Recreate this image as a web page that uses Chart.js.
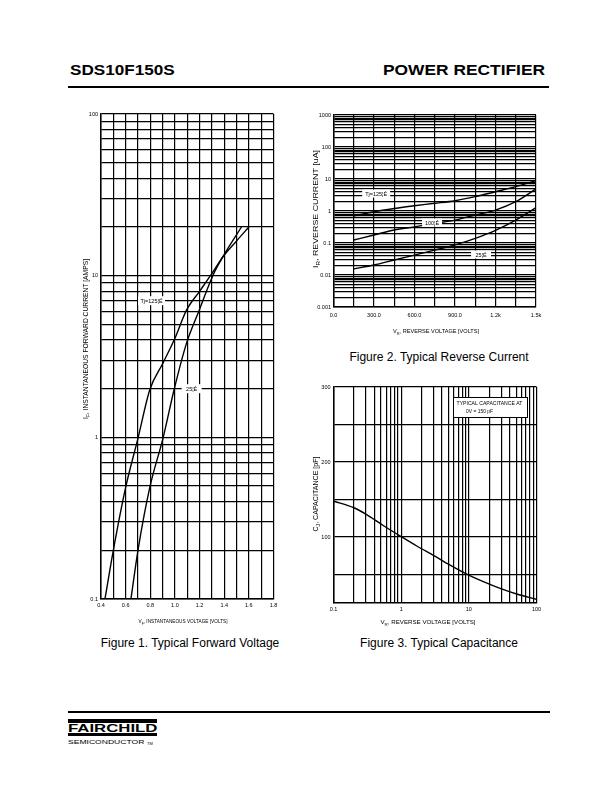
<!DOCTYPE html>
<html><head><meta charset="utf-8">
<script src="https://cdn.jsdelivr.net/npm/chart.js@4.4.0/dist/chart.umd.min.js"></script>
<style>
html,body{margin:0;padding:0;background:#fff;}
body{width:612px;height:792px;position:relative;overflow:hidden;font-family:"Liberation Sans",Arial,Helvetica,sans-serif;color:#000;}
.abs{position:absolute;white-space:nowrap;}
.fit{transform-origin:0 0;}
canvas{position:absolute;}
.bar{position:absolute;background:#000;}
.cap{position:absolute;font-size:12px;text-align:center;}
</style></head><body>
<div class="abs fit" style="left:70px;top:61px;font-weight:bold;font-size:15px;" data-w="105">SDS10F150S</div>
<div class="abs fit" style="left:383px;top:61px;font-weight:bold;font-size:15px;" data-w="162">POWER RECTIFIER</div>
<div class="bar" style="left:68px;top:86px;width:481px;height:2px"></div>

<canvas id="c1" width="215" height="530" style="left:70px;top:100px"></canvas>
<canvas id="c2" width="245" height="235" style="left:305px;top:105px"></canvas>
<canvas id="c3" width="245" height="255" style="left:305px;top:378px"></canvas>

<div class="cap" style="left:90px;width:200px;top:636px">Figure 1. Typical Forward Voltage</div>
<div class="cap" style="left:339px;width:200px;top:350px">Figure 2. Typical Reverse Current</div>
<div class="cap" style="left:339px;width:200px;top:636px">Figure 3. Typical Capacitance</div>

<div class="bar" style="left:68px;top:711px;width:482px;height:2px"></div>
<div class="bar" style="left:68px;top:719px;width:89px;height:4px"></div>
<div class="abs fit" style="left:68px;top:722px;font-weight:bold;font-size:11.5px;" data-w="89">FAIRCHILD</div>
<div class="bar" style="left:68px;top:733px;width:89px;height:3px"></div>
<div class="abs fit" style="left:68px;top:739px;font-size:6px;" data-w="77">SEMICONDUCTOR</div>
<div class="abs" style="left:147px;top:740.5px;font-size:4px;">TM</div>

<script>
// ---------- Figure 1 data ----------
const fig1VoltageTj125 = [0.432, 0.5, 0.6, 0.702, 0.796, 0.9, 1.0, 1.093, 1.2, 1.31, 1.39, 1.5, 1.6];
const fig1CurrentTj125 = [0.1, 0.2, 0.49, 1.0, 1.97, 2.85, 4.1, 6.1, 8.0, 10.6, 13.1, 16.4, 20];
const fig1VoltageTj25 = [0.643, 0.7, 0.796, 0.905, 0.993, 1.093, 1.193, 1.31, 1.39, 1.54];
const fig1CurrentTj25 = [0.1, 0.2, 0.49, 1.0, 1.97, 3.8, 6.0, 10.1, 13.1, 20];
const fig1XGrid = [0.4, 0.5, 0.6, 0.7, 0.8, 0.9, 1.0, 1.1, 1.2, 1.3, 1.4, 1.5, 1.6, 1.7, 1.8];
const fig1XLabelValues = [0.4, 0.6, 0.8, 1.0, 1.2, 1.4, 1.6, 1.8];
const fig1XLabels = ['0.4', '0.6', '0.8', '1.0', '1.2', '1.4', '1.6', '1.8'];
const fig1YGrid = [0.1, 0.2, 0.3, 0.4, 0.5, 0.6, 0.7, 0.8, 0.9, 1, 2, 3, 4, 5, 6, 7, 8, 9, 10, 20, 30, 40, 50, 60, 70, 80, 90, 100];
const fig1YLabelValues = [0.1, 1, 10, 100];
const fig1YLabels = ['0.1', '1', '10', '100'];
const fig1CurveLabels = ['Tj=125¦É', '25¦É'];

// ---------- Figure 2 data ----------
const fig2Voltage = [150, 300, 450, 600, 750, 900, 1050, 1200, 1350, 1500];
const fig2CurrentTj125 = [0.70, 0.95, 1.2, 1.46, 1.74, 2.1, 2.8, 4.0, 5.75, 8.9];
const fig2CurrentTj100 = [0.124, 0.178, 0.255, 0.32, 0.41, 0.52, 0.75, 1.07, 1.95, 4.9];
const fig2CurrentTj25 = [0.0155, 0.0205, 0.0295, 0.042, 0.06, 0.087, 0.14, 0.25, 0.52, 1.27];
const fig2XGrid = [0, 150, 300, 450, 600, 750, 900, 1050, 1200, 1350, 1500];
const fig2XLabelValues = [0, 300, 600, 900, 1200, 1500];
const fig2XLabels = ['0.0', '300.0', '600.0', '900.0', '1.2k', '1.5k'];
const fig2YGrid = [0.001, 0.002, 0.003, 0.004, 0.005, 0.006, 0.007, 0.008, 0.009,
  0.01, 0.02, 0.03, 0.04, 0.05, 0.06, 0.07, 0.08, 0.09,
  0.1, 0.2, 0.3, 0.4, 0.5, 0.6, 0.7, 0.8, 0.9,
  1, 2, 3, 4, 5, 6, 7, 8, 9, 10, 20, 30, 40, 50, 60, 70, 80, 90,
  100, 200, 300, 400, 500, 600, 700, 800, 900, 1000];
const fig2YLabelValues = [0.001, 0.01, 0.1, 1, 10, 100, 1000];
const fig2YLabels = ['0.001', '0.01', '0.1', '1', '10', '100', '1000'];
const fig2CurveLabels = ['Tj=125¦É', '100¦É', '25¦É'];

// ---------- Figure 3 data ----------
const fig3Voltage = [0.1, 0.2, 0.3, 0.55, 1, 1.7, 3, 5.3, 9.3, 16.4, 29, 51, 100];
const fig3Capacitance = [148, 139, 130.5, 115, 100.5, 88, 75.5, 62.5, 50.5, 40.5, 31.5, 24, 17];
const fig3XGrid = [0.1, 0.2, 0.3, 0.4, 0.5, 0.6, 0.7, 0.8, 0.9, 1, 2, 3, 4, 5, 6, 7, 8, 9,
  10, 20, 30, 40, 50, 60, 70, 80, 90, 100];
const fig3XLabelValues = [0.1, 1, 10, 100];
const fig3XLabels = ['0.1', '1', '10', '100'];
const fig3YGrid = [50, 100, 150, 200, 250, 300];
const fig3YLabelValues = [100, 200, 300];
const fig3YLabels = ['100', '200', '300'];
const fig3Note = ['TYPICAL CAPACITANCE AT', '0V = 150 pF'];

// ---------- helpers ----------
const FONT = '"Liberation Sans", Arial, Helvetica, sans-serif';
Chart.defaults.font.family = FONT;
Chart.defaults.color = '#000';

function pts(xs, ys) { return xs.map((x, i) => ({ x: x, y: ys[i] })); }

function axis(type, grid, labelValues, labels, min, max, isY, size, pad) {
  return {
    type: type, min: min, max: max,
    afterBuildTicks: (s) => { s.ticks = grid.map(v => ({ value: v })); },
    afterFit: (s) => {
      if (isY) s.width = size; else s.height = size;
      s.paddingLeft = 0; s.paddingRight = 0; s.paddingTop = 0; s.paddingBottom = 0;
    },
    grid: { color: '#000', lineWidth: 1.2, drawTicks: false },
    border: { display: true, color: '#000', width: 1.5 },
    ticks: {
      autoSkip: false, maxRotation: 0, minRotation: 0, padding: pad,
      font: { size: 5.5, family: FONT },
      callback: (v) => {
        const i = labelValues.findIndex(l => Math.abs(l - v) <= 1e-9 * Math.max(1, Math.abs(v)));
        return i >= 0 ? labels[i] : '';
      }
    }
  };
}

function drawRich(ctx, parts, cx, cy, width, size, rot) {
  ctx.save();
  ctx.translate(cx, cy);
  if (rot) ctx.rotate(-Math.PI / 2);
  const fonts = parts.map(p => (p[1] ? size * 0.72 : size) + 'px ' + FONT);
  let total = 0;
  parts.forEach((p, i) => { ctx.font = fonts[i]; total += ctx.measureText(p[0]).width; });
  ctx.scale(width / total, 1);
  let x = -total / 2;
  ctx.fillStyle = '#000'; ctx.textAlign = 'left'; ctx.textBaseline = 'alphabetic';
  parts.forEach((p, i) => {
    ctx.font = fonts[i];
    ctx.fillText(p[0], x, size * 0.36 + (p[1] ? size * 0.28 : 0));
    x += ctx.measureText(p[0]).width;
  });
  ctx.restore();
}

const decorPlugin = {
  id: 'decor',
  afterDatasetsDraw(chart, args, opts) {
    const ctx = chart.ctx;
    const ox = chart.canvas.offsetLeft, oy = chart.canvas.offsetTop;
    const xs = chart.scales.x, ys = chart.scales.y;
    (opts.labels || []).forEach(l => {
      const px = xs.getPixelForValue(l.x), py = ys.getPixelForValue(l.y);
      ctx.save();
      ctx.fillStyle = '#fff';
      ctx.fillRect(px - l.w / 2, py - l.h / 2, l.w, l.h);
      ctx.fillStyle = '#000';
      ctx.font = '5.5px ' + FONT;
      ctx.textAlign = 'center'; ctx.textBaseline = 'middle';
      ctx.fillText(l.text, px, py + 0.5, l.tw);
      ctx.restore();
    });
    if (opts.box) {
      const b = opts.box;
      ctx.save();
      ctx.fillStyle = '#fff';
      ctx.fillRect(b.x1 - ox, b.y1 - oy, b.x2 - b.x1, b.y2 - b.y1);
      ctx.strokeStyle = '#000'; ctx.lineWidth = 1;
      ctx.strokeRect(b.x1 - ox + 0.5, b.y1 - oy + 0.5, b.x2 - b.x1, b.y2 - b.y1);
      ctx.fillStyle = '#000'; ctx.font = '5.5px ' + FONT; ctx.textAlign = 'left'; ctx.textBaseline = 'middle';
      b.lines.forEach(t => ctx.fillText(t.text, t.x - ox, t.y - oy, t.w));
      ctx.restore();
    }
    (opts.titles || []).forEach(t => drawRich(ctx, t.parts, t.cx - ox, t.cy - oy, t.w, t.size, t.rot));
  }
};

function lineSet(data) {
  return { data: data, showLine: true, pointRadius: 0, borderColor: '#000', borderWidth: 1.4,
           cubicInterpolationMode: 'monotone', fill: false };
}

function makeChart(id, box, area, datasets, xAxis, yAxis, decor) {
  const yw = 20, xh = 14;
  const padding = {
    left: area.left - box.left - yw,
    top: area.top - box.top,
    right: box.left + box.width - area.right,
    bottom: box.top + box.height - area.bottom - xh
  };
  return new Chart(document.getElementById(id), {
    type: 'scatter',
    data: { datasets: datasets },
    options: {
      responsive: false, animation: false, devicePixelRatio: 1,
      layout: { padding: padding },
      plugins: { legend: { display: false }, tooltip: { enabled: false }, decor: decor },
      scales: { x: xAxis, y: yAxis }
    },
    plugins: [decorPlugin]
  });
}

// ---------- Figure 1 ----------
makeChart('c1', { left: 70, top: 100, width: 215, height: 530 },
  { left: 101, top: 114, right: 273.5, bottom: 599 },
  [lineSet(pts(fig1VoltageTj125, fig1CurrentTj125)), lineSet(pts(fig1VoltageTj25, fig1CurrentTj25))],
  axis('linear', fig1XGrid, fig1XLabelValues, fig1XLabels, 0.4, 1.8, false, 14, 3),
  axis('logarithmic', fig1YGrid, fig1YLabelValues, fig1YLabels, 0.1, 100, true, 20, 3),
  {
    labels: [
      { text: fig1CurveLabels[0], x: 0.81, y: 7.0, w: 27, h: 9, tw: 23 },
      { text: fig1CurveLabels[1], x: 1.136, y: 2.0, w: 20, h: 9, tw: 12 }
    ],
    titles: [
      { parts: [['I', 0], ['F', 1], [', INSTANTANEOUS FORWARD CURRENT [AMPS]', 0]], cx: 86, cy: 339, w: 160, size: 6.5, rot: true },
      { parts: [['V', 0], ['F', 1], [', INSTANTANEOUS VOLTAGE [VOLTS]', 0]], cx: 183, cy: 621, w: 89, size: 6, rot: false }
    ]
  });

// ---------- Figure 2 ----------
makeChart('c2', { left: 305, top: 105, width: 245, height: 235 },
  { left: 333.5, top: 115, right: 536, bottom: 307 },
  [lineSet(pts(fig2Voltage, fig2CurrentTj125)), lineSet(pts(fig2Voltage, fig2CurrentTj100)), lineSet(pts(fig2Voltage, fig2CurrentTj25))],
  axis('linear', fig2XGrid, fig2XLabelValues, fig2XLabels, 0, 1500, false, 14, 5),
  axis('logarithmic', fig2YGrid, fig2YLabelValues, fig2YLabels, 0.001, 1000, true, 20, 2.5),
  {
    labels: [
      { text: fig2CurveLabels[0], x: 316, y: 3.5, w: 28, h: 8, tw: 22 },
      { text: fig2CurveLabels[1], x: 730, y: 0.437, w: 20, h: 8, tw: 14 },
      { text: fig2CurveLabels[2], x: 1093, y: 0.0437, w: 20, h: 8, tw: 12 }
    ],
    titles: [
      { parts: [['I', 0], ['R', 1], [', REVERSE CURRENT [uA]', 0]], cx: 316, cy: 209, w: 118, size: 6.5, rot: true },
      { parts: [['V', 0], ['R', 1], [', REVERSE VOLTAGE [VOLTS]', 0]], cx: 436, cy: 331, w: 86, size: 6, rot: false }
    ]
  });

// ---------- Figure 3 ----------
makeChart('c3', { left: 305, top: 378, width: 245, height: 255 },
  { left: 333.5, top: 387, right: 536.5, bottom: 603 },
  [lineSet(pts(fig3Voltage, fig3Capacitance))],
  axis('logarithmic', fig3XGrid, fig3XLabelValues, fig3XLabels, 0.1, 100, false, 14, 3),
  axis('linear', fig3YGrid, fig3YLabelValues, fig3YLabels, 12, 300, true, 20, 3),
  {
    box: { x1: 453, y1: 397, x2: 527, y2: 417,
      lines: [ { text: fig3Note[0], x: 456.5, y: 403, w: 66 }, { text: fig3Note[1], x: 466, y: 411, w: 27 } ] },
    titles: [
      { parts: [['C', 0], ['J', 1], [', CAPACITANCE [pF]', 0]], cx: 316, cy: 494, w: 75, size: 6.5, rot: true },
      { parts: [['V', 0], ['R', 1], [', REVERSE VOLTAGE [VOLTS]', 0]], cx: 428, cy: 622, w: 95, size: 6, rot: false }
    ]
  });

// fit header/logo texts to their measured widths
document.querySelectorAll('.fit').forEach(el => {
  const w = parseFloat(el.dataset.w);
  el.style.transform = 'scaleX(' + (w / el.offsetWidth) + ')';
});
</script>
</body></html>
